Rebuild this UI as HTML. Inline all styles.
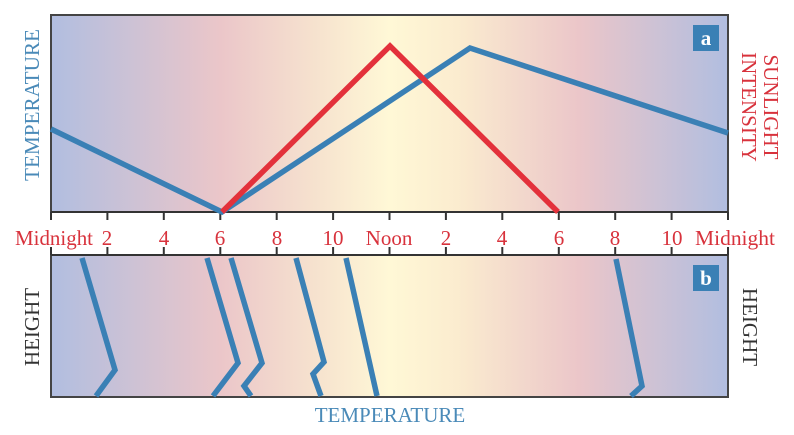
<!DOCTYPE html>
<html><head><style>body{margin:0;background:#fff}</style></head><body>
<svg width="794" height="430" xmlns="http://www.w3.org/2000/svg" font-family="Liberation Serif, serif">
<defs>
<linearGradient id="g" x1="0" x2="1" y1="0" y2="0">
<stop offset="0" stop-color="#b1bee0"/>
<stop offset="0.25" stop-color="#ebc6c9"/>
<stop offset="0.4" stop-color="#f7e4cf"/>
<stop offset="0.5" stop-color="#fff8d6"/>
<stop offset="0.6" stop-color="#fbeccf"/>
<stop offset="0.78" stop-color="#ebc6c9"/>
<stop offset="1" stop-color="#b1bee0"/>
</linearGradient>
</defs>
<rect x="51" y="15" width="677" height="197" fill="url(#g)"/>
<rect x="51" y="255" width="677" height="142" fill="url(#g)"/>
<path d="M51,212V15H728V212M51,255V397H728V255" fill="none" stroke="#444" stroke-width="2"/>
<line x1="51" y1="212" x2="728" y2="212" stroke="#333" stroke-width="2"/>
<line x1="51" y1="255" x2="728" y2="255" stroke="#333" stroke-width="2"/>
<g stroke="#333" stroke-width="2">
<path d="M51,212v8M107.4,212v8M163.8,212v8M220.3,212v8M276.7,212v8M333.1,212v8M389.5,212v8M445.9,212v8M502.3,212v8M558.8,212v8M615.2,212v8M671.6,212v8M728,212v8"/>
<path d="M51,255v-8M107.4,255v-8M163.8,255v-8M220.3,255v-8M276.7,255v-8M333.1,255v-8M389.5,255v-8M445.9,255v-8M502.3,255v-8M558.8,255v-8M615.2,255v-8M671.6,255v-8M728,255v-8"/>
</g>
<g fill="#d8323c" font-size="21" text-anchor="middle">
<text x="54" y="245" textLength="78" lengthAdjust="spacingAndGlyphs">Midnight</text>
<text x="107" y="245">2</text><text x="164" y="245">4</text><text x="220" y="245">6</text>
<text x="277" y="245">8</text><text x="333" y="245">10</text><text x="389" y="245">Noon</text>
<text x="446" y="245">2</text><text x="502" y="245">4</text><text x="559" y="245">6</text>
<text x="615" y="245">8</text><text x="672" y="245">10</text><text x="735" y="245" textLength="80" lengthAdjust="spacingAndGlyphs">Midnight</text>
</g>
<polyline points="51,129 222,212 470,48 728,133" fill="none" stroke="#3a80b5" stroke-width="5.5"/>
<polyline points="222,212 390,46 558,212" fill="none" stroke="#e3313b" stroke-width="5.5"/>
<g fill="none" stroke="#3a80b5" stroke-width="5.5">
<polyline points="82,258 115,370 96,396"/>
<polyline points="207,258 238,363 213,396"/>
<polyline points="231,258 262,363 244,386 251,396"/>
<polyline points="296,258 324,362 313,374 321,396"/>
<polyline points="346,258 377,396"/>
<polyline points="616,259 642,386 631,396"/>
</g>
<rect x="693" y="25" width="26" height="26" fill="#3a80b5"/>
<text x="706" y="45" fill="#fff" font-size="21" font-weight="bold" text-anchor="middle">a</text>
<rect x="693" y="265" width="26" height="26" fill="#3a80b5"/>
<text x="706" y="285" fill="#fff" font-size="21" font-weight="bold" text-anchor="middle">b</text>
<text transform="translate(39,105) rotate(-90)" fill="#4a8ab8" font-size="21" text-anchor="middle" textLength="152" lengthAdjust="spacingAndGlyphs">TEMPERATURE</text>
<text transform="translate(764,107) rotate(90)" fill="#d8323c" font-size="21" text-anchor="middle">SUNLIGHT</text>
<text transform="translate(742,107) rotate(90)" fill="#d8323c" font-size="21" text-anchor="middle">INTENSITY</text>
<text transform="translate(39,327) rotate(-90)" fill="#333" font-size="21" text-anchor="middle">HEIGHT</text>
<text transform="translate(743,327) rotate(90)" fill="#333" font-size="21" text-anchor="middle">HEIGHT</text>
<text x="390" y="422" fill="#4a8ab8" font-size="21" text-anchor="middle">TEMPERATURE</text>
</svg>
</body></html>
